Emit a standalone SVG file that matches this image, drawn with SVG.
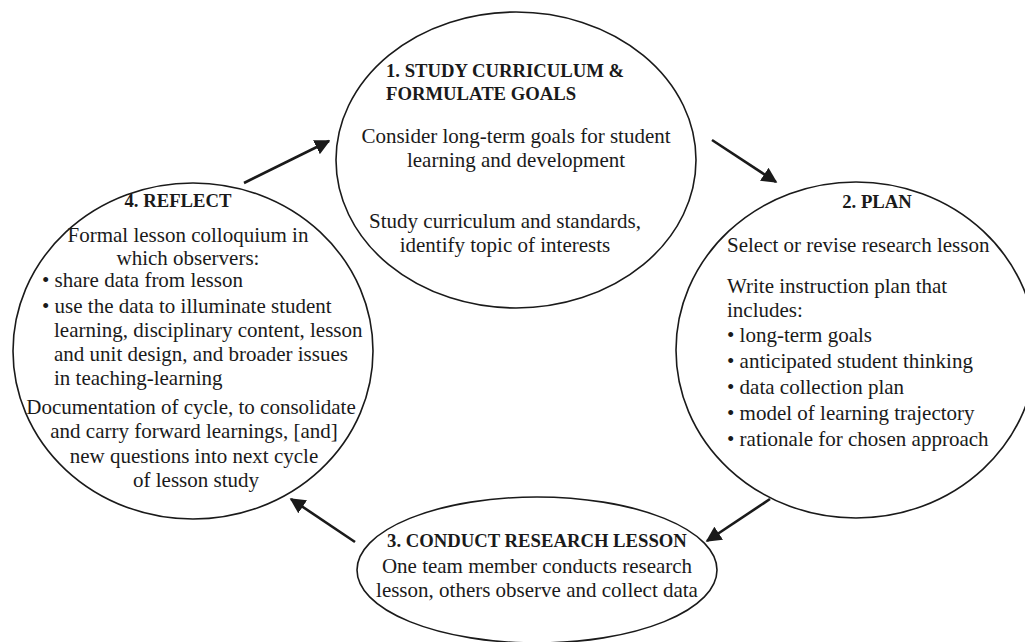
<svg xmlns="http://www.w3.org/2000/svg" width="1025" height="642" viewBox="0 0 1025 642">
<defs>
<style>
.node{fill:#fff;stroke:#1a1a1a;stroke-width:1.6}
.t{font-family:"Liberation Serif","Times New Roman",serif;font-size:21px;fill:#1a1a1a}
.h{font-family:"Liberation Serif","Times New Roman",serif;font-size:18.7px;font-weight:bold;fill:#1a1a1a}
.c{text-anchor:middle}
.conn{stroke:#1a1a1a;stroke-width:2.6;fill:none;marker-end:url(#ah)}
</style>
<marker id="ah" viewBox="0 0 10 10" refX="9" refY="5" markerWidth="6" markerHeight="6" markerUnits="strokeWidth" orient="auto">
<path d="M0,0 L10,5 L0,10 z" fill="#1a1a1a"/>
</marker>
</defs>
<rect width="1025" height="642" fill="#fff"/>
<g id="node1">
<ellipse class="node" cx="516" cy="160" rx="180" ry="148"/>
<text class="h" x="386" y="77">1. STUDY CURRICULUM &amp;</text>
<text class="h" x="386" y="100">FORMULATE GOALS</text>
<text class="t c" x="516" y="143">Consider long-term goals for student</text>
<text class="t c" x="516" y="167">learning and development</text>
<text class="t c" x="505" y="228">Study curriculum and standards,</text>
<text class="t c" x="505" y="252">identify topic of interests</text>
</g>
<g id="node2">
<ellipse class="node" cx="856" cy="350" rx="180" ry="168"/>
<text class="h c" x="877" y="208">2. PLAN</text>
<text class="t" x="727" y="252">Select or revise research lesson</text>
<text class="t" x="727" y="293">Write instruction plan that</text>
<text class="t" x="727" y="317">includes:</text>
<text class="t" x="727" y="342">• long-term goals</text>
<text class="t" x="727" y="368">• anticipated student thinking</text>
<text class="t" x="727" y="394">• data collection plan</text>
<text class="t" x="727" y="420">• model of learning trajectory</text>
<text class="t" x="727" y="446">• rationale for chosen approach</text>
</g>
<g id="node3">
<ellipse class="node" cx="537" cy="570" rx="180" ry="73"/>
<text class="h c" x="537" y="547">3. CONDUCT RESEARCH LESSON</text>
<text class="t c" x="537" y="573">One team member conducts research</text>
<text class="t c" x="537" y="597">lesson, others observe and collect data</text>
</g>
<g id="node4">
<ellipse class="node" cx="193" cy="351" rx="180" ry="168"/>
<text class="h c" x="178" y="207">4. REFLECT</text>
<text class="t c" x="188" y="242">Formal lesson colloquium in</text>
<text class="t c" x="188" y="265">which observers:</text>
<text class="t" x="42" y="287">• share data from lesson</text>
<text class="t" x="42" y="313">• use the data to illuminate student</text>
<text class="t" x="54" y="337">learning, disciplinary content, lesson</text>
<text class="t" x="54" y="361">and unit design, and broader issues</text>
<text class="t" x="54" y="385">in teaching-learning</text>
<text class="t c" x="191" y="414">Documentation of cycle, to consolidate</text>
<text class="t c" x="194" y="438">and carry forward learnings, [and]</text>
<text class="t c" x="194" y="463">new questions into next cycle</text>
<text class="t c" x="196" y="487">of lesson study</text>
</g>
<g id="connectors">
<line class="conn" x1="244" y1="183" x2="329" y2="141"/>
<line class="conn" x1="712" y1="140" x2="776" y2="182"/>
<line class="conn" x1="770" y1="499" x2="707" y2="541"/>
<line class="conn" x1="355" y1="542" x2="291" y2="499"/>
</g>
</svg>
